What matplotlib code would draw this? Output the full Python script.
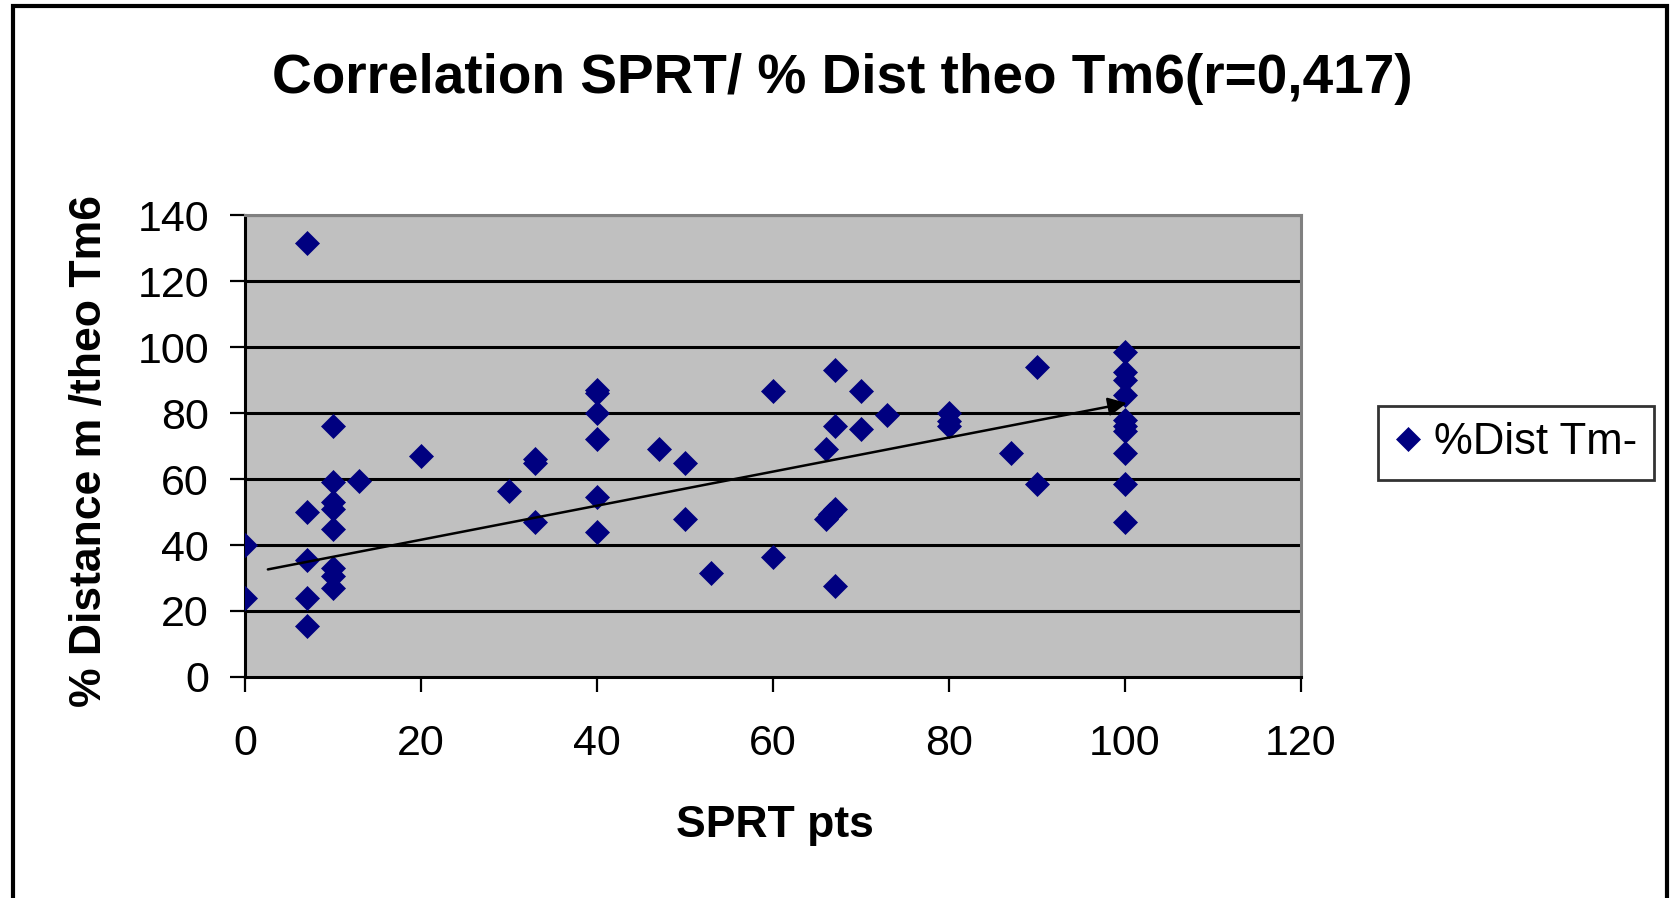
# Scatter of SPRT points vs % distance m/theo Tm6, Excel-style look

import matplotlib
matplotlib.use("Agg")
from matplotlib import pyplot as plt
from matplotlib.patches import Rectangle

plt.rcParams["font.family"] = ["Liberation Sans", "DejaVu Sans"]

# Values
sprt = [0, 0, 7, 7, 7, 7, 7, 10, 10, 10, 10, 10, 10, 10, 10, 13, 20, 30, 33, 33,
        33, 40, 40, 40, 40, 40, 40, 47, 50, 50, 53, 60, 60, 67, 67, 66, 67, 66,
        66.5, 67, 70, 70, 73, 80, 80, 80, 87, 90, 90, 100, 100, 100, 100, 100,
        100, 100, 100, 100, 100]
dist = [40, 24, 131.6, 50, 35.5, 24, 15.5, 76, 59, 53, 51, 45, 33, 30.5, 27,
        59.5, 67, 56.5, 66, 65, 47, 87, 86, 80, 72, 54.5, 44, 69, 65, 48, 31.5,
        86.7, 36.5, 93, 76, 69, 27.5, 48, 49.5, 51, 86.7, 75.2, 79.4, 80, 77.5,
        76, 68, 94, 58.5, 98.5, 92.5, 90, 85.5, 78, 76, 74.5, 68, 58.5, 47]

# Trend line end points (drawn with an arrow head, as in the original)
trend_x = [2.6, 100.2]
trend_y = [32.6, 83.0]

x_ticks = [0, 20, 40, 60, 80, 100, 120]
y_ticks = [0, 20, 40, 60, 80, 100, 120, 140]

W, H = 1671, 898
fig = plt.figure(figsize=(W / 100, H / 100), dpi=100)
ax = fig.add_axes([245 / W, 1 - 677 / H, (1301 - 245) / W, (677 - 215) / H])
ax.set_facecolor("#c0c0c0")

# Horizontal grid lines
for v in y_ticks[1:]:
    ax.axhline(v, color="black", lw=2.2, zorder=1)

ax.plot(
    sprt,
    dist,
    linestyle="none",
    marker="D",
    ms=12.5,
    color="#000080",
    mec="#000080",
    mew=0.5,
    label="%Dist Tm-",
    zorder=3,
)

# Trend line with arrow
ax.annotate(
    "",
    xy=(trend_x[1], trend_y[1]),
    xytext=(trend_x[0], trend_y[0]),
    arrowprops=dict(arrowstyle="-|>", color="black", lw=1.8, mutation_scale=28,
                    shrinkA=0, shrinkB=0),
    zorder=4,
)

ax.set_xlim(0, 120)
ax.set_ylim(0, 140)
ax.set_xticks(x_ticks)
ax.set_yticks(y_ticks)
ax.tick_params(axis="both", direction="out", length=11, width=1.6,
               labelsize=31, color="black")
ax.tick_params(axis="x", pad=23)
ax.tick_params(axis="y", pad=15)

for side in ["left", "bottom"]:
    ax.spines[side].set_color("black")
    ax.spines[side].set_linewidth(2.2)
for side in ["top", "right"]:
    ax.spines[side].set_color("#808080")
    ax.spines[side].set_linewidth(2.2)

# Texts
fig.text(842 / W, 1 - 93 / H, "Correlation SPRT/ % Dist theo Tm6(r=0,417)",
         ha="center", va="baseline", fontsize=39.6, fontweight="bold")
fig.text(90 / W, 1 - 451 / H, "% Distance m /theo Tm6", rotation=90,
         ha="center", va="center", fontsize=32, fontweight="bold")
fig.text(775 / W, 1 - 837 / H, "SPRT pts", ha="center", va="baseline",
         fontsize=32, fontweight="bold")

# Legend
leg = fig.legend(
    loc="center",
    bbox_to_anchor=(1516 / W, 1 - 443 / H),
    fontsize=31.5,
    frameon=True,
    fancybox=False,
    edgecolor="black",
    handlelength=0.6,
    handletextpad=0.3,
    borderpad=0.38,
    borderaxespad=0,
)
leg.get_frame().set_linewidth(2.0)

# Outer chart border
fig.patches.append(Rectangle((13 / W, -0.05), (1667 - 13) / W, 1.05 - 6 / H,
                             transform=fig.transFigure, fill=False,
                             edgecolor="black", lw=3.0))

plt.savefig("out.png", dpi=100)
